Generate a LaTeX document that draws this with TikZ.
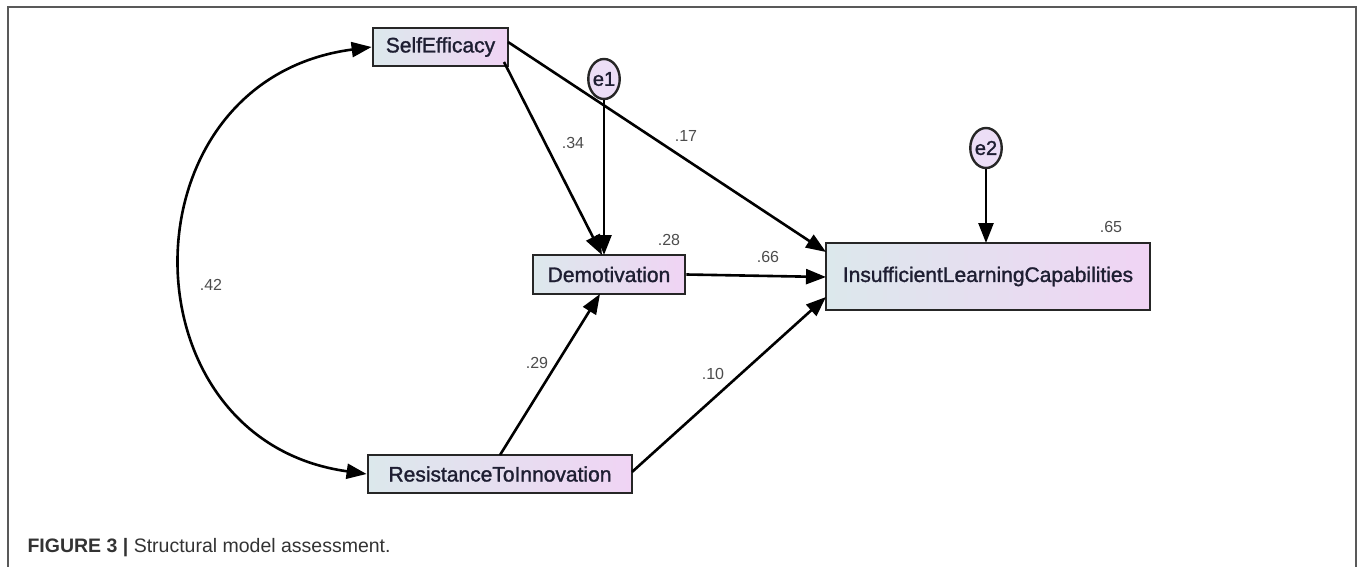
\documentclass[tikz,border=0pt]{standalone}
\usepackage{fontspec}
\setmainfont{Liberation Sans}
\newfontfamily\boxfont[FakeBold=1.4]{Liberation Sans}
\usetikzlibrary{arrows.meta,shapes.geometric}
\definecolor{boxL}{RGB}{220,232,236}
\definecolor{boxR}{RGB}{240,212,244}
\definecolor{ellF}{RGB}{236,222,246}
\definecolor{txt}{RGB}{30,30,50}
\tikzset{
  var/.style={draw=black!85, line width=2.8pt, left color=boxL, right color=boxR, font=\boxfont\fontsize{21}{24}\selectfont, text=txt, inner sep=0pt, anchor=center},
  err/.style={draw=black!85, line width=2.4pt, ellipse, fill=ellF, font=\boxfont\fontsize{20}{22}\selectfont, text=txt, minimum width=28pt, minimum height=40pt, inner sep=0pt},
  arr/.style={line width=2.6pt, -{Triangle[length=20pt,width=15pt]}},
  lab/.style={font=\fontsize{16}{18}\selectfont, text=black!70}
}
\begin{document}
\begin{tikzpicture}[x=1pt,y=-1pt]
\useasboundingbox (0,0) rectangle (1357,567);
\draw[line width=2pt, black!65] (8,567) -- (8,7) -- (1356,7) -- (1356,567);
\node[var, minimum width=135pt, minimum height=38pt] (se) at (440.5,47) {SelfEfficacy};
\node[var, minimum width=152pt, minimum height=39pt] (de) at (609,274.5) {Demotivation};
\node[var, minimum width=324pt, minimum height=67pt] (il) at (988,276.5) {InsufficientLearningCapabilities};
\node[var, minimum width=264pt, minimum height=38pt] (ri) at (500,474) {ResistanceToInnovation};
\node[err] (e1) at (604,79) {e1};
\node[err] (e2) at (986,148) {e2};
\coordinate (seA) at (504,62);
\coordinate (seB) at (508,42);
\coordinate (riA) at (500,455);
\coordinate (riB) at (632,472);
\draw[arr] (seA) -- (602,255);
\draw[arr] (seB) -- (826,252);
\draw[arr] (e1.south) -- (604,255);
\draw[arr] (de.east) -- (826,277);
\draw[arr] (riA) -- (600,294);
\draw[arr] (riB) -- (826,297);
\draw[arr] (e2.south) -- (986,243);
\draw[line width=2.6pt, {Triangle[length=20pt,width=15pt]}-{Triangle[length=20pt,width=15pt]}] (se.west) .. controls (120,80) and (120,440) .. (ri.west);
\node[lab] (l34) at (573,143) {.34};
\node[lab] (l17) at (686,136) {.17};
\node[lab] (l28) at (669,240) {.28};
\node[lab] (l66) at (768,257) {.66};
\node[lab] (l65) at (1111,227) {.65};
\node[lab] (l42) at (211,285) {.42};
\node[lab] (l29) at (537,363) {.29};
\node[lab] (l10) at (713,374) {.10};
\node[anchor=west, font=\fontsize{19.5}{22}\selectfont, text=black!80] (cap) at (24,548) {\textbf{FIGURE 3 |} Structural model assessment.};
\end{tikzpicture}
\end{document}
